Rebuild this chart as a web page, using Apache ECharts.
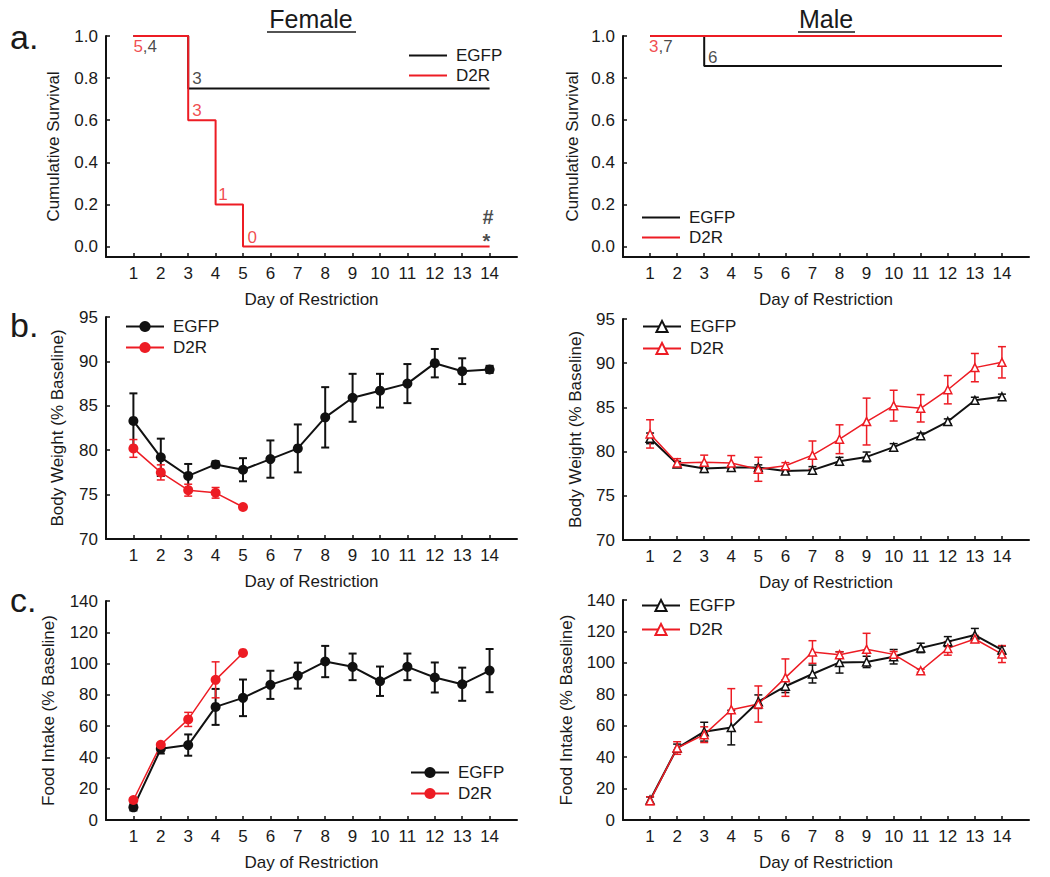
<!DOCTYPE html>
<html><head><meta charset="utf-8">
<script src="https://cdn.jsdelivr.net/npm/echarts@6/dist/echarts.min.js"></script>
<style>html,body{margin:0;padding:0;background:#fff}#c{width:1050px;height:877px}</style>
</head><body><div id="c"></div>
<script>
// ---------- data ----------
const days = [1,2,3,4,5,6,7,8,9,10,11,12,13,14];
const dayTicks = [1,2,3,4,5,6,7,8,9,10,11,12,13,14];
const survTicks = [0,0.2,0.4,0.6,0.8,1.0];

// Kaplan-Meier steps
const survFemEgfpDays = [1,3,14],       survFemEgfpVals = [1,0.75,0.75];
const survFemD2rDays  = [1,3,4,5,14],   survFemD2rVals  = [1,0.6,0.2,0,0];
const survMaleEgfpDays = [1,3,14],      survMaleEgfpVals = [1,0.857,0.857];
const survMaleD2rDays  = [1,14],        survMaleD2rVals  = [1,1];

// numbers at risk / significance marks: "red part|black part"
const femNumX = [1.0, 3.15, 3.15, 4.1, 5.16, 13.74, 13.74];
const femNumY = [0.948, 0.796, 0.645, 0.246, 0.043, 0.138, 0.028];
const femNumText = ['5|,4', '|3', '3|', '1|', '0|', '|#', '|*'];
const maleNumX = [0.96, 3.14];
const maleNumY = [0.948, 0.90];
const maleNumText = ['3|,7', '|6'];

// body weight (% baseline)
const bwFemEgfp    = [83.3,79.2,77.1,78.4,77.8,79.0,80.2,83.7,85.9,86.7,87.5,89.8,88.9,89.1];
const bwFemEgfpErr = [3.1,2.1,1.35,0.35,1.3,2.1,2.7,3.4,2.7,1.9,2.2,1.6,1.45,0.4];
const bwFemD2r     = [80.2,77.5,75.5,75.2,73.6];
const bwFemD2rErr  = [1.0,0.85,0.67,0.6,0];
const bwMaleEgfp    = [81.5,78.6,78.1,78.2,78.2,77.8,77.9,78.9,79.4,80.5,81.8,83.4,85.8,86.2];
const bwMaleEgfpErr = [0.6,0.3,0.45,0.2,0.3,0.25,0.4,0.45,0.55,0.4,0.3,0.3,0.35,0.3];
const bwMaleD2r     = [82.0,78.7,78.8,78.7,78.0,78.4,79.6,81.4,83.4,85.2,84.9,87.0,89.5,90.1];
const bwMaleD2rErr  = [1.6,0.5,0.8,0.85,1.36,0.35,1.6,1.63,2.65,1.74,1.55,1.6,1.6,1.77];

// food intake (% baseline)
const fiFemEgfp    = [8.1,45.5,47.9,72.3,78.1,86.4,92.3,101.3,97.9,88.7,97.9,91.1,86.8,95.5];
const fiFemEgfpErr = [2.0,3.0,6.8,11.5,11.7,9.0,8.3,10.0,8.5,9.4,8.5,9.6,10.6,13.8];
const fiFemD2r     = [12.8,48.1,64.3,89.6,106.8];
const fiFemD2rErr  = [1.0,1.0,4.5,11.5,0];
const fiMaleEgfp    = [12.7,45.8,56.2,58.8,75.3,85.1,92.9,100.3,100.6,103.9,109.5,113.5,117.7,108.2];
const fiMaleEgfpErr = [2.0,2.5,6.0,11.0,4.3,4.0,5.7,6.8,3.6,4.6,3.0,3.2,4.2,2.5];
const fiMaleD2r     = [12.3,45.8,54.3,70.2,73.8,90.6,106.9,105.2,108.6,105.4,95.0,109.2,115.2,105.6];
const fiMaleD2rErr  = [2.5,4.0,5.0,13.4,11.5,11.9,7.2,1.8,10.2,1.8,1.0,4.3,2.2,5.4];

// ---------- style ----------
const FONT = 'Liberation Sans, Arial, Helvetica, sans-serif';
const INK = '#1a1a1a';
const RED = '#ed1c24';
const BLACK = '#111111';
const FS = 17;

const grids = [
  {left:106, top:36,  width:411, height:221},
  {left:623, top:36,  width:406, height:221},
  {left:106, top:317, width:411, height:222},
  {left:623, top:319, width:406, height:221},
  {left:106, top:601, width:411, height:219},
  {left:623, top:600, width:406, height:220}
];

function xAx(i){
  return {gridIndex:i, type:'value', min:0, max:15,
    axisLine:{onZero:false, lineStyle:{color:BLACK, width:2}},
    axisTick:{inside:true, length:4, customValues:dayTicks, lineStyle:{color:BLACK, width:1.5}},
    axisLabel:{customValues:dayTicks, fontSize:FS, color:INK, margin:8, fontFamily:FONT},
    splitLine:{show:false},
    name:'Day of Restriction', nameLocation:'middle', nameGap:34,
    nameTextStyle:{fontSize:FS, color:INK, fontFamily:FONT}};
}
function yAx(i, opt){
  return Object.assign({gridIndex:i, type:'value',
    axisLine:{show:true, onZero:false, lineStyle:{color:BLACK, width:2}},
    axisTick:{show:true, inside:true, length:4, lineStyle:{color:BLACK, width:1.5}},
    axisLabel:{fontSize:FS, color:INK, margin:8, fontFamily:FONT},
    splitLine:{show:false},
    nameLocation:'middle', nameRotate:90,
    nameTextStyle:{fontSize:FS, color:INK, fontFamily:FONT}}, opt);
}

function pairs(xs, ys){ return xs.map((x,k)=>[x, ys[k]]); }

function stepLine(name, i, xs, ys, color){
  return {type:'line', name, xAxisIndex:i, yAxisIndex:i, step:'end', data:pairs(xs,ys),
    symbol:'none', lineStyle:{color, width:2}, itemStyle:{color}, z:3, silent:true};
}
function annot(i, xs, ys, texts){
  return {type:'scatter', name:'ann'+i, xAxisIndex:i, yAxisIndex:i, symbolSize:0, silent:true, z:5,
    data: xs.map((x,k)=>[x, ys[k], texts[k]]),
    label:{show:true, position:'right', distance:0, fontSize:FS, fontFamily:FONT,
      formatter:p=>{
        const s=p.data[2].split('|');
        const big = (s[1]==='#'||s[1]==='*');
        return (s[0]?'{r|'+s[0]+'}':'')+(s[1]?(big?'{g|':'{k|')+s[1]+'}':'');
      },
      rich:{r:{color:RED, fontSize:FS, fontFamily:FONT},
            k:{color:INK, fontSize:FS, fontFamily:FONT},
            g:{color:INK, fontSize:20, lineHeight:18, fontWeight:'bold', fontFamily:FONT}}}};
}
function meanLine(name, i, vals, color, symbol, open, size, lw){
  return {type:'line', name, xAxisIndex:i, yAxisIndex:i, data:pairs(days.slice(0,vals.length), vals),
    symbol, symbolSize:size, showSymbol:true, z:4, silent:true,
    lineStyle:{color, width:lw},
    itemStyle: open ? {color:'#ffffff', borderColor:color, borderWidth:1.5} : {color, borderColor:color, borderWidth:0}};
}
function errBars(name, i, vals, errs, color, lw){
  const data = vals.map((m,k)=>[days[k], m-errs[k], m+errs[k]]).filter((d,k)=>errs[k]>0);
  return {type:'custom', name, xAxisIndex:i, yAxisIndex:i, z:3, silent:true, data,
    encode:{x:0, y:[1,2]},
    renderItem:(p, api)=>{
      const lo = api.coord([api.value(0), api.value(1)]);
      const hi = api.coord([api.value(0), api.value(2)]);
      const cw = 4;
      const st = {stroke:color, lineWidth:lw};
      return {type:'group', children:[
        {type:'line', shape:{x1:lo[0],y1:lo[1],x2:hi[0],y2:hi[1]}, style:st},
        {type:'line', shape:{x1:lo[0]-cw,y1:lo[1],x2:lo[0]+cw,y2:lo[1]}, style:st},
        {type:'line', shape:{x1:hi[0]-cw,y1:hi[1],x2:hi[0]+cw,y2:hi[1]}, style:st}
      ]};
    }};
}
function legend(names, left, top, gap, lineOnly){
  return {data: lineOnly ? names.map(n=>({name:n, itemStyle:{opacity:0}})) : names,
    left, top, orient:'vertical', itemGap:gap, itemWidth:38, itemHeight: lineOnly ? 2 : 14,
    padding:0, selectedMode:false,
    formatter:n=>n.split('|')[0],
    textStyle:{fontSize:FS, color:INK, fontFamily:FONT, padding:[0,0,0,4]}};
}

const option = {
  animation:false,
  textStyle:{fontFamily:FONT},
  grid: grids,
  xAxis: [0,1,2,3,4,5].map(xAx),
  yAxis: [
    yAx(0,{min:-0.05, max:1.0, name:'Cumulative Survival', nameGap:44,
      axisLabel:{customValues:survTicks, formatter:v=>v.toFixed(1), fontSize:FS, color:INK, margin:8, fontFamily:FONT},
      axisTick:{inside:true, length:4, customValues:survTicks, lineStyle:{color:BLACK, width:1.5}}}),
    yAx(1,{min:-0.05, max:1.0, name:'Cumulative Survival', nameGap:42,
      axisLabel:{customValues:survTicks, formatter:v=>v.toFixed(1), fontSize:FS, color:INK, margin:8, fontFamily:FONT},
      axisTick:{inside:true, length:4, customValues:survTicks, lineStyle:{color:BLACK, width:1.5}}}),
    yAx(2,{min:70, max:95, interval:5, name:'Body Weight (% Baseline)', nameGap:40}),
    yAx(3,{min:70, max:95, interval:5, name:'Body Weight (% Baseline)', nameGap:39}),
    yAx(4,{min:0, max:140, interval:20, name:'Food Intake (% Baseline)', nameGap:49}),
    yAx(5,{min:0, max:140, interval:20, name:'Food Intake (% Baseline)', nameGap:48})
  ],
  legend: [
    legend(['EGFP|sf','D2R|sf'], 408, 47, 3, true),
    legend(['EGFP|sm','D2R|sm'], 641, 209, 3, true),
    legend(['EGFP|bf','D2R|bf'], 125, 318, 4),
    legend(['EGFP|bm','D2R|bm'], 642, 318, 5),
    legend(['EGFP|ff','D2R|ff'], 410, 764, 4),
    legend(['EGFP|fm','D2R|fm'], 641, 597, 7)
  ],
  series: [
    stepLine('EGFP|sf', 0, survFemEgfpDays, survFemEgfpVals, BLACK),
    stepLine('D2R|sf', 0, survFemD2rDays, survFemD2rVals, RED),
    annot(0, femNumX, femNumY, femNumText),
    stepLine('EGFP|sm', 1, survMaleEgfpDays, survMaleEgfpVals, BLACK),
    stepLine('D2R|sm', 1, survMaleD2rDays, survMaleD2rVals, RED),
    annot(1, maleNumX, maleNumY, maleNumText),

    errBars('e1', 2, bwFemEgfp, bwFemEgfpErr, BLACK, 2),
    errBars('e2', 2, bwFemD2r, bwFemD2rErr, RED, 1.5),
    meanLine('EGFP|bf', 2, bwFemEgfp, BLACK, 'circle', false, 10, 2),
    meanLine('D2R|bf', 2, bwFemD2r, RED, 'circle', false, 10, 1.5),

    errBars('e3', 3, bwMaleEgfp, bwMaleEgfpErr, BLACK, 1.5),
    errBars('e4', 3, bwMaleD2r, bwMaleD2rErr, RED, 1.5),
    meanLine('EGFP|bm', 3, bwMaleEgfp, BLACK, 'triangle', true, 8, 2),
    meanLine('D2R|bm', 3, bwMaleD2r, RED, 'triangle', true, 8, 1.5),

    errBars('e5', 4, fiFemEgfp, fiFemEgfpErr, BLACK, 2),
    errBars('e6', 4, fiFemD2r, fiFemD2rErr, RED, 1.5),
    meanLine('EGFP|ff', 4, fiFemEgfp, BLACK, 'circle', false, 10, 2),
    meanLine('D2R|ff', 4, fiFemD2r, RED, 'circle', false, 10, 1.5),

    errBars('e7', 5, fiMaleEgfp, fiMaleEgfpErr, BLACK, 1.5),
    errBars('e8', 5, fiMaleD2r, fiMaleD2rErr, RED, 1.5),
    meanLine('EGFP|fm', 5, fiMaleEgfp, BLACK, 'triangle', true, 8, 2),
    meanLine('D2R|fm', 5, fiMaleD2r, RED, 'triangle', true, 8, 1.5)
  ],
  graphic: [
    {type:'text', x:311, y:19, style:{text:'Female', fontSize:25, fontFamily:FONT, fill:INK, align:'center', verticalAlign:'middle'}},
    {type:'line', shape:{x1:267, y1:32, x2:356, y2:32}, style:{stroke:INK, lineWidth:1.5}},
    {type:'text', x:826, y:19, style:{text:'Male', fontSize:25, fontFamily:FONT, fill:INK, align:'center', verticalAlign:'middle'}},
    {type:'line', shape:{x1:798, y1:32, x2:855, y2:32}, style:{stroke:INK, lineWidth:1.5}},
    {type:'text', x:10, y:37, style:{text:'a.', fontSize:34, fontFamily:FONT, fill:INK, align:'left', verticalAlign:'middle'}},
    {type:'text', x:10, y:325, style:{text:'b.', fontSize:34, fontFamily:FONT, fill:INK, align:'left', verticalAlign:'middle'}},
    {type:'text', x:10, y:600, style:{text:'c.', fontSize:34, fontFamily:FONT, fill:INK, align:'left', verticalAlign:'middle'}}
  ]
};

const chart = echarts.init(document.getElementById('c'), null, {renderer:'svg'});
chart.setOption(option);
</script>
</body></html>
